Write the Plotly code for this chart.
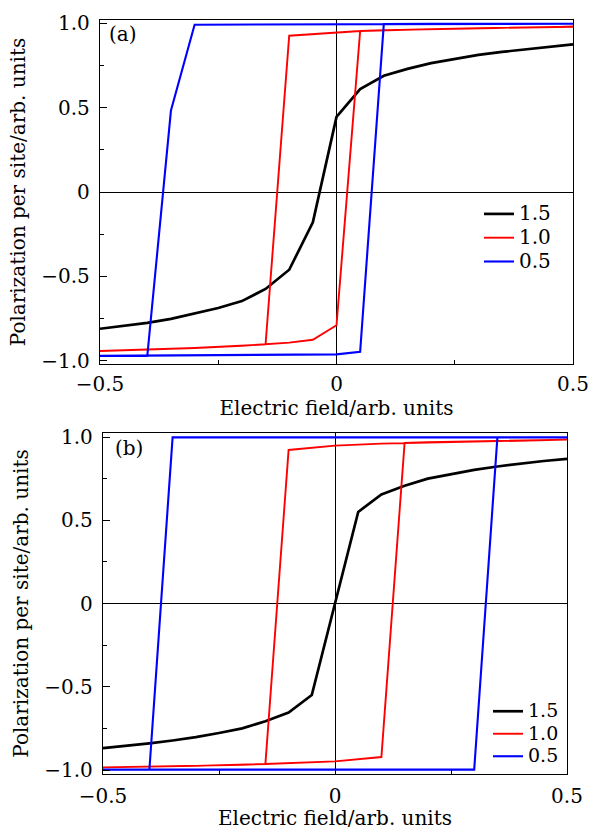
import plotly.graph_objects as go

# ---------------- data ----------------
E_GRID = [-0.5, -0.45, -0.4, -0.35, -0.3, -0.25, -0.2, -0.15, -0.1, -0.05, 0.0,
          0.05, 0.1, 0.15, 0.2, 0.25, 0.3, 0.35, 0.4, 0.45, 0.5]

# panel (a)
A_BLACK_Y = [-0.811, -0.795, -0.776, -0.752, -0.722, -0.688, -0.647, -0.575, -0.461, -0.18, 0.445,
             0.61, 0.689, 0.73, 0.764, 0.79, 0.813, 0.831, 0.847, 0.862, 0.876]

A_RED_X = [-0.5, -0.4, -0.3, -0.2, -0.15, -0.1, -0.05, 0.0, 0.05, 0.1, 0.2, 0.3, 0.4, 0.5,
           0.4, 0.3, 0.2, 0.1, 0.05, 0.0, -0.05, -0.1, -0.15, -0.2, -0.3, -0.4, -0.5]
A_RED_Y = [-0.943, -0.935, -0.925, -0.912, -0.904, -0.893, -0.876, -0.79, 0.955, 0.96, 0.966, 0.972, 0.976, 0.98,
           0.976, 0.972, 0.966, 0.96, 0.955, 0.946, 0.937, 0.927, -0.904, -0.912, -0.925, -0.935, -0.943]

A_BLUE_X = [-0.5, -0.4, -0.3, -0.2, -0.1, 0.0, 0.05, 0.1, 0.2, 0.3, 0.4, 0.5,
            0.4, 0.3, 0.2, 0.1, 0.0, -0.1, -0.2, -0.3, -0.35, -0.4, -0.5]
A_BLUE_Y = [-0.972, -0.971, -0.97, -0.969, -0.967, -0.963, -0.947, 0.996, 0.997, 0.998, 0.998, 0.998,
            0.998, 0.998, 0.997, 0.996, 0.995, 0.994, 0.993, 0.992, 0.483, -0.972, -0.972]

# panel (b)
B_BLACK_Y = [-0.869, -0.856, -0.84, -0.823, -0.803, -0.778, -0.75, -0.707, -0.655, -0.55, 0.0,
             0.55, 0.655, 0.707, 0.75, 0.778, 0.803, 0.823, 0.84, 0.856, 0.869]

B_RED_X = [-0.5, -0.4, -0.3, -0.2, -0.15, -0.1, 0.0, 0.1, 0.15, 0.2, 0.3, 0.4, 0.5,
           0.4, 0.3, 0.2, 0.15, 0.1, 0.0, -0.1, -0.15, -0.2, -0.3, -0.4, -0.5]
B_RED_Y = [-0.984, -0.98, -0.975, -0.969, -0.964, -0.96, -0.948, -0.922, 0.964, 0.969, 0.975, 0.98, 0.984,
           0.98, 0.975, 0.969, 0.964, 0.96, 0.948, 0.922, -0.964, -0.969, -0.975, -0.98, -0.984]

B_BLUE_X = [-0.5, -0.4, -0.2, 0.0, 0.2, 0.3, 0.35, 0.4, 0.5,
            0.4, 0.35, 0.2, 0.0, -0.2, -0.35, -0.4, -0.5]
B_BLUE_Y = [-0.998, -0.998, -0.998, -0.998, -0.998, -0.998, 0.998, 0.998, 0.998,
            0.998, 0.998, 0.998, 0.998, 0.998, 0.998, -0.998, -0.998]

SERIES_NAMES = ["1.5", "1.0", "0.5"]
COLORS = ["#000000", "#ff0000", "#0000ff"]
WIDTHS = [2.7, 1.9, 2.1]

Y_TICKS = [-1.0, -0.5, 0.0, 0.5, 1.0]
Y_TICKTEXT = ["\u22121.0", "\u22120.5", "0", "0.5", "1.0"]
X_TICKS = [-0.5, 0.0, 0.5]
X_TICKTEXT = ["\u22120.5", "0", "0.5"]

X_TITLE = "Electric field/arb. units"
Y_TITLE = "Polarization per site/arb. units"

FONT = "DejaVu Serif"
FS = 20

W, H = 591, 830

fig = go.Figure()

panels = [
    ("x", "y", "legend", FS, A_BLACK_Y, A_RED_X, A_RED_Y, A_BLUE_X, A_BLUE_Y),
    ("x2", "y2", "legend2", FS - 1, B_BLACK_Y, B_RED_X, B_RED_Y, B_BLUE_X, B_BLUE_Y),
]
for xa, ya, leg, lfs, bk, rx, ry, bx, by in panels:
    data = [(E_GRID, bk), (rx, ry), (bx, by)]
    for i, (xs, ys) in enumerate(data):
        fig.add_trace(go.Scatter(
            x=xs, y=ys, mode="lines",
            name='<span style="font-size:%dpx">%s</span>' % (lfs, SERIES_NAMES[i]),
            line=dict(color=COLORS[i], width=WIDTHS[i]),
            xaxis=xa, yaxis=ya, legend=leg, showlegend=True,
        ))

def px_dom_x(l, r):
    return [l / W, r / W]

def px_dom_y(top, bot):
    return [1 - bot / H, 1 - top / H]

common_axis = dict(
    showline=True, linecolor="black", linewidth=1.3, mirror=True,
    ticks="inside", ticklen=7, tickwidth=1.2, tickcolor="black",
    showgrid=False, zeroline=True, zerolinecolor="black", zerolinewidth=1.3,
    tickfont=dict(family=FONT, size=FS, color="black"),
    automargin=False,
)

fig.update_layout(
    width=W, height=H,
    margin=dict(l=0, r=0, t=0, b=0, autoexpand=False),
    paper_bgcolor="white", plot_bgcolor="white",
    font=dict(family=FONT, size=FS, color="black"),
    xaxis=dict(domain=px_dom_x(100, 573), range=[-0.5, 0.5], anchor="y",
               tickvals=X_TICKS, ticktext=X_TICKTEXT,
               minor=dict(tickvals=[-0.25, 0.25], ticks="inside", ticklen=4, tickcolor="black"),
               title=dict(text=X_TITLE, font=dict(family=FONT, size=FS), standoff=4),
               ticklabelstandoff=2,
               **common_axis),
    yaxis=dict(domain=px_dom_y(20, 364), range=[-1.02, 1.02], anchor="x",
               tickvals=Y_TICKS, ticktext=Y_TICKTEXT,
               minor=dict(tickvals=[-0.75, -0.25, 0.25, 0.75], ticks="inside", ticklen=4, tickcolor="black"),
               title=dict(text=Y_TITLE, font=dict(family=FONT, size=FS), standoff=10),
               ticklabelstandoff=5,
               **common_axis),
    xaxis2=dict(domain=px_dom_x(103, 567), range=[-0.5, 0.5], anchor="y2",
                tickvals=X_TICKS, ticktext=X_TICKTEXT,
                minor=dict(tickvals=[-0.25, 0.25], ticks="inside", ticklen=4, tickcolor="black"),
                title=dict(text=X_TITLE, font=dict(family=FONT, size=FS), standoff=6),
                ticklabelstandoff=4,
                **common_axis),
    yaxis2=dict(domain=px_dom_y(433, 774), range=[-1.024, 1.024], anchor="x2",
                tickvals=Y_TICKS, ticktext=Y_TICKTEXT,
                minor=dict(tickvals=[-0.75, -0.25, 0.25, 0.75], ticks="inside", ticklen=4, tickcolor="black"),
                title=dict(text=Y_TITLE, font=dict(family=FONT, size=FS), standoff=10),
                ticklabelstandoff=5,
                **common_axis),
    legend=dict(x=479 / W, y=1 - 197 / H, xanchor="left", yanchor="top",
                bgcolor="rgba(0,0,0,0)", borderwidth=0,
                font=dict(family=FONT, size=16, color="black"),
                tracegroupgap=0, itemwidth=30),
    legend2=dict(x=488 / W, y=1 - 695 / H, xanchor="left", yanchor="top",
                 bgcolor="rgba(0,0,0,0)", borderwidth=0,
                 font=dict(family=FONT, size=15, color="black"),
                 tracegroupgap=0, itemwidth=30),
    annotations=[
        dict(text="(a)", xref="paper", yref="paper", x=107 / W, y=1 - 20 / H,
             xanchor="left", yanchor="top", showarrow=False,
             font=dict(family=FONT, size=FS, color="black")),
        dict(text="(b)", xref="paper", yref="paper", x=113 / W, y=1 - 434 / H,
             xanchor="left", yanchor="top", showarrow=False,
             font=dict(family=FONT, size=FS, color="black")),
    ],
)

fig.write_html("out.html")
